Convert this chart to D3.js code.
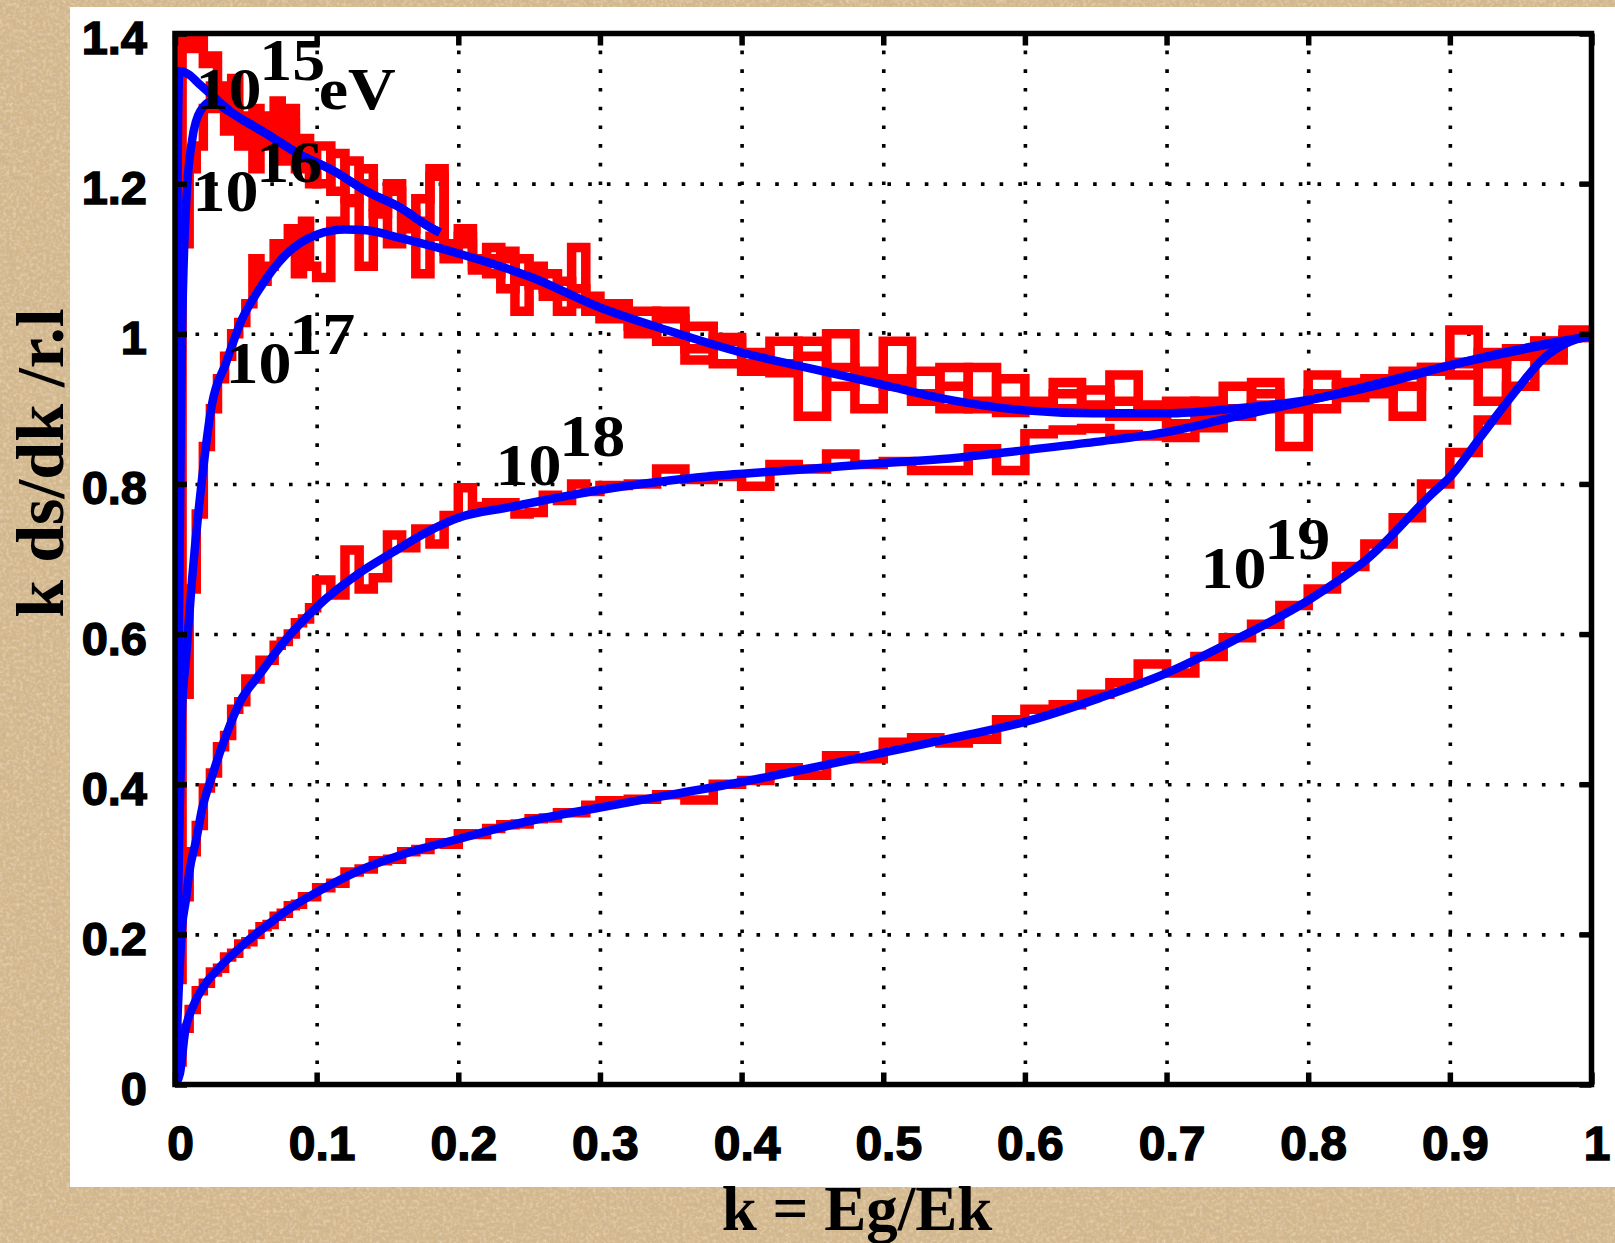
<!DOCTYPE html>
<html>
<head>
<meta charset="utf-8">
<script src="https://cdn.jsdelivr.net/npm/d3@7"></script>
<style>
  html, body { margin: 0; padding: 0; background: #d5b98f; overflow: hidden; }
  svg { display: block; }
</style>
</head>
<body>
<svg id="chart" width="1615" height="1243"></svg>
<script>
// ---- Histogram bin edges in k = Eg/Ek (fine bins at low k, coarse at high k) ----
const binEdges = [0,0.005,0.01,0.015,0.02,0.025,0.03,0.035,0.04,0.045,0.05,0.055,0.06,0.065,0.07,0.075,0.08,0.085,0.09,0.095,0.1,
  0.11,0.12,0.13,0.14,0.15,0.16,0.17,0.18,0.19,0.2,0.21,0.22,0.23,0.24,0.25,0.26,0.27,0.28,0.29,0.3,
  0.32,0.34,0.36,0.38,0.4,0.42,0.44,0.46,0.48,0.5,0.52,0.54,0.56,0.58,0.6,0.62,0.64,0.66,0.68,0.7,
  0.72,0.74,0.76,0.78,0.8,0.82,0.84,0.86,0.88,0.9,0.92,0.94,0.96,0.98,1.0];

// ---- Simulated spectra (histograms), one value per bin ----
const red15 = [1.05,1.4,1.38,1.42,1.36,1.37,1.33,1.3,1.34,1.29,1.27,1.3,1.25,1.26,1.31,1.23,1.28,1.24,1.26,1.21,
  1.2,1.24,1.18,1.22,1.17,1.2,1.16,1.15,1.21,1.12,1.14,1.1,1.08,1.11,1.07,1.08,1.06,1.05,1.06,1.03,
  1.03,1.01,1.02,0.98,0.99,0.95,0.96,0.97,0.93,0.94,0.93,0.92,0.955,0.91,0.895,0.9,0.92,0.905,0.91,0.89,
  0.9,0.91,0.895,0.92,0.905,0.92,0.93,0.925,0.95,0.95,0.96,0.975,0.975,0.99,0.995];
const red16 = [0.55,1.12,1.22,1.25,1.3,1.33,1.3,1.27,1.3,1.25,1.28,1.22,1.26,1.29,1.24,1.26,1.3,1.22,1.25,1.2,
  1.25,1.19,1.23,1.2,1.16,1.19,1.14,1.18,1.22,1.11,1.12,1.09,1.1,1.1,1.03,1.09,1.05,1.07,1.04,1.05,
  1.02,1.03,0.99,1.01,0.96,0.96,0.99,0.89,1.0,0.95,0.94,0.95,0.93,0.9,0.94,0.91,0.9,0.925,0.89,0.905,
  0.88,0.89,0.9,0.935,0.9,0.9,0.915,0.92,0.89,0.955,0.945,0.96,0.97,0.99,1.0];
const red17 = [0.26,0.52,0.66,0.76,0.85,0.9,0.94,0.97,1.0,1.015,1.04,1.1,1.07,1.09,1.12,1.11,1.14,1.08,1.15,1.09,
  1.075,1.15,1.175,1.09,1.16,1.12,1.15,1.08,1.13,1.1,1.13,1.085,1.115,1.06,1.1,1.065,1.08,1.03,1.115,1.04,
  1.04,1.0,1.03,0.965,0.995,0.975,0.948,0.99,0.955,0.9,0.99,0.91,0.9,0.955,0.91,0.905,0.935,0.9,0.945,0.9,
  0.91,0.905,0.93,0.9,0.85,0.945,0.935,0.94,0.93,0.95,1.005,0.91,0.97,0.975,1.005];
const red18 = [0.14,0.25,0.31,0.345,0.395,0.415,0.45,0.465,0.5,0.51,0.54,0.54,0.565,0.565,0.585,0.59,0.6,0.615,0.62,0.635,
  0.672,0.652,0.712,0.66,0.675,0.732,0.715,0.74,0.72,0.758,0.795,0.77,0.775,0.775,0.76,0.762,0.785,0.778,0.8,0.79,
  0.798,0.8,0.82,0.806,0.81,0.797,0.826,0.82,0.84,0.826,0.83,0.818,0.818,0.847,0.818,0.867,0.872,0.874,0.866,0.864,
  0.862,0.875,0.89,0.905,0.9,0.92,0.93,0.925,0.945,0.955,0.962,0.965,0.98,0.99,1.0];
const red19 = [0.03,0.075,0.1,0.125,0.135,0.15,0.155,0.17,0.175,0.187,0.19,0.2,0.21,0.213,0.224,0.228,0.238,0.24,0.25,0.25,
  0.262,0.268,0.283,0.287,0.298,0.3,0.31,0.313,0.322,0.32,0.334,0.333,0.341,0.346,0.347,0.354,0.355,0.362,0.362,0.372,
  0.378,0.38,0.386,0.379,0.4,0.405,0.422,0.412,0.438,0.434,0.456,0.462,0.455,0.46,0.486,0.5,0.506,0.52,0.535,0.56,
  0.548,0.57,0.595,0.613,0.638,0.66,0.69,0.72,0.755,0.8,0.842,0.885,0.93,0.965,0.995];

// ---- Calculated spectra (smooth curves), [k, k ds/dk] ----
const blue15 = [[0,0],[0.0008,0.7],[0.0018,1.2],[0.003,1.35],[0.01,1.345],[0.017,1.333],[0.026,1.318],[0.04,1.295],
  [0.065,1.266],[0.088,1.239],[0.112,1.217],[0.135,1.19],[0.159,1.168],[0.18,1.142],[0.187,1.135]];
const blue16 = [[0,0],[0.002,0.45],[0.004,0.85],[0.005,1.0],[0.008,1.178],[0.012,1.257],[0.018,1.297],[0.0268,1.31],
  [0.035,1.3],[0.065,1.266],[0.088,1.239],[0.112,1.217],[0.135,1.19],[0.159,1.168],[0.18,1.142],[0.187,1.135]];
const blue17 = [[0,0],[0.001,0.12],[0.003,0.33],[0.005,0.5],[0.0077,0.566],[0.012,0.672],[0.019,0.805],[0.026,0.905],
  [0.036,0.961],[0.047,1.018],[0.059,1.058],[0.078,1.105],[0.1,1.132],[0.12,1.139],[0.135,1.138],[0.158,1.128],
  [0.2,1.107],[0.252,1.075],[0.3,1.035],[0.347,1.005],[0.4,0.975],[0.446,0.955],[0.5,0.932],[0.547,0.912],
  [0.6,0.898],[0.648,0.894],[0.7,0.894],[0.747,0.9],[0.8,0.912],[0.85,0.932],[0.9,0.958],[0.95,0.98],[1,0.997]];
const blue18 = [[0,0],[0.002,0.1],[0.005,0.21],[0.0077,0.246],[0.01,0.282],[0.015,0.326],[0.019,0.366],[0.026,0.41],
  [0.036,0.465],[0.046,0.51],[0.06,0.547],[0.078,0.592],[0.1,0.636],[0.13,0.681],[0.153,0.708],[0.177,0.735],
  [0.2,0.755],[0.236,0.769],[0.3,0.792],[0.37,0.809],[0.44,0.819],[0.5,0.828],[0.547,0.834],[0.6,0.845],
  [0.65,0.856],[0.7,0.869],[0.747,0.889],[0.8,0.911],[0.841,0.93],[0.9,0.958],[0.959,0.982],[1,0.997]];
const blue19 = [[0,0],[0.0035,0.015],[0.007,0.069],[0.0127,0.104],[0.02,0.13],[0.032,0.157],[0.048,0.186],
  [0.067,0.215],[0.083,0.237],[0.1,0.256],[0.13,0.285],[0.165,0.309],[0.2,0.327],[0.243,0.348],[0.3,0.369],
  [0.35,0.386],[0.4,0.403],[0.45,0.422],[0.5,0.442],[0.55,0.462],[0.6,0.483],[0.653,0.515],[0.7,0.548],
  [0.747,0.591],[0.8,0.645],[0.841,0.699],[0.888,0.788],[0.9,0.809],[0.923,0.866],[0.947,0.925],
  [0.966,0.967],[0.982,0.987],[1,0.998]];

// ---- Axes ----
const xTicks = [0,0.1,0.2,0.3,0.4,0.5,0.6,0.7,0.8,0.9,1];
const xTickLabels = ["0","0.1","0.2","0.3","0.4","0.5","0.6","0.7","0.8","0.9","1"];
const yTicks = [0,0.2,0.4,0.6,0.8,1,1.2,1.4];
const yTickLabels = ["0","0.2","0.4","0.6","0.8","1","1.2","1.4"];
const xTitle = "k = Eg/Ek";
const yTitle = "k ds/dk /r.l";

// ---- Curve labels: electron energy exponent ----
const energyExponents = ["15","16","17","18","19"];
const energyUnit = "eV";

// ================= drawing =================
const W = 1615, H = 1243;
const plot = { left: 175, right: 1591.5, top: 33.5, bottom: 1084.5 };

const svg = d3.select("#chart");
const defs = svg.append("defs");

// soft mottled paper texture for the backdrop
const f = defs.append("filter").attr("id", "paper")
  .attr("x", 0).attr("y", 0).attr("width", "100%").attr("height", "100%");
f.append("feTurbulence").attr("type", "fractalNoise").attr("baseFrequency", 0.12)
  .attr("numOctaves", 4).attr("seed", 11).attr("result", "noise");
f.append("feColorMatrix").attr("in", "noise").attr("type", "matrix")
  .attr("values", "0 0 0 0 0.55  0 0 0 0 0.43  0 0 0 0 0.27  0.9 0 0 0 -0.38");
const f2 = defs.append("filter").attr("id", "paperLight")
  .attr("x", 0).attr("y", 0).attr("width", "100%").attr("height", "100%");
f2.append("feTurbulence").attr("type", "fractalNoise").attr("baseFrequency", 0.3)
  .attr("numOctaves", 3).attr("seed", 4).attr("result", "noise");
f2.append("feColorMatrix").attr("in", "noise").attr("type", "matrix")
  .attr("values", "0 0 0 0 0.93  0 0 0 0 0.86  0 0 0 0 0.74  0 0 1.0 0 -0.42");

defs.append("clipPath").attr("id", "plotClip").append("rect")
  .attr("x", plot.left).attr("y", plot.top)
  .attr("width", plot.right - plot.left).attr("height", plot.bottom - plot.top);

svg.append("rect").attr("width", W).attr("height", H).attr("fill", "#d4b88d");
svg.append("rect").attr("width", W).attr("height", H).attr("filter", "url(#paperLight)");
svg.append("rect").attr("width", W).attr("height", H).attr("filter", "url(#paper)");

// white sheet holding the plot
svg.append("rect").attr("x", 70).attr("y", 7).attr("width", W - 70).attr("height", 1180).attr("fill", "#ffffff");

const x = d3.scaleLinear().domain([0, 1]).range([plot.left, plot.right]);
const y = d3.scaleLinear().domain([0, 1.4]).range([plot.bottom, plot.top]);

// dotted grid
const gridX = svg.append("g").attr("transform", `translate(0,${plot.bottom})`)
  .call(d3.axisBottom(x).tickValues(xTicks.slice(1, -1)).tickSize(-(plot.bottom - plot.top)).tickFormat(""));
const gridY = svg.append("g").attr("transform", `translate(${plot.left},0)`)
  .call(d3.axisLeft(y).tickValues(yTicks.slice(1, -1)).tickSize(-(plot.right - plot.left)).tickFormat(""));
[gridX, gridY].forEach(g => {
  g.select(".domain").remove();
  g.selectAll(".tick line").attr("stroke", "#000").attr("stroke-width", 3.6)
    .attr("stroke-dasharray", "3.6 15.1").attr("stroke-dashoffset", 16.9);
});

// curves
const curves = svg.append("g").attr("clip-path", "url(#plotClip)");

function histPoints(vals) {
  const pts = [[binEdges[0], 0]];
  binEdges.forEach((e, i) => pts.push([e, vals[Math.min(i, vals.length - 1)]]));
  return pts;
}
const stepLine = d3.line().x(d => x(d[0])).y(d => y(d[1])).curve(d3.curveStepAfter);
const smoothLine = d3.line().x(d => x(d[0])).y(d => y(d[1])).curve(d3.curveMonotoneX);

[red19, red18, red17, red16, red15].forEach(vals => {
  curves.append("path").attr("d", stepLine(histPoints(vals)))
    .attr("fill", "none").attr("stroke", "#ff0000").attr("stroke-width", 9.5)
    .attr("stroke-linejoin", "miter");
});
[blue19, blue18, blue17, blue16, blue15].forEach(pts => {
  curves.append("path").attr("d", smoothLine(pts))
    .attr("fill", "none").attr("stroke", "#0000ff").attr("stroke-width", 8.5)
    .attr("stroke-linejoin", "round");
});

// frame and inward ticks on all four sides
const tickStyle = g => {
  g.select(".domain").remove();
  g.selectAll(".tick line").attr("stroke", "#000").attr("stroke-width", 5.5);
};
const axB = svg.append("g").attr("transform", `translate(0,${plot.bottom})`)
  .call(d3.axisBottom(x).tickValues(xTicks).tickSizeInner(-12).tickSizeOuter(0)
    .tickFormat((d, i) => xTickLabels[i]));
tickStyle(axB);
axB.selectAll(".tick text").attr("y", 1160 - plot.bottom).attr("dy", null).attr("dx", 5)
  .attr("font-family", "'Liberation Sans', Arial, sans-serif").attr("font-weight", "bold")
  .attr("font-size", 48).attr("fill", "#000").attr("stroke", "#000").attr("stroke-width", 1.4);

const axT = svg.append("g").attr("transform", `translate(0,${plot.top})`)
  .call(d3.axisTop(x).tickValues(xTicks).tickSizeInner(-12).tickSizeOuter(0).tickFormat(""));
tickStyle(axT);

const axL = svg.append("g").attr("transform", `translate(${plot.left},0)`)
  .call(d3.axisLeft(y).tickValues(yTicks).tickSizeInner(-12).tickSizeOuter(0)
    .tickFormat((d, i) => yTickLabels[i]));
tickStyle(axL);
axL.selectAll(".tick text").attr("x", 147 - plot.left).attr("dy", 20).attr("text-anchor", "end")
  .attr("font-family", "'Liberation Sans', Arial, sans-serif").attr("font-weight", "bold")
  .attr("font-size", 47).attr("fill", "#000").attr("stroke", "#000").attr("stroke-width", 1.4);

const axR = svg.append("g").attr("transform", `translate(${plot.right},0)`)
  .call(d3.axisRight(y).tickValues(yTicks).tickSizeInner(-12).tickSizeOuter(0).tickFormat(""));
tickStyle(axR);

svg.append("rect").attr("x", plot.left).attr("y", plot.top)
  .attr("width", plot.right - plot.left).attr("height", plot.bottom - plot.top)
  .attr("fill", "none").attr("stroke", "#000").attr("stroke-width", 5.5);

// axis titles
const serif = "'Liberation Serif', 'Times New Roman', serif";
svg.append("text").attr("x", 857).attr("y", 1230).attr("text-anchor", "middle")
  .attr("font-family", serif).attr("font-weight", "bold").attr("font-size", 63).text(xTitle);
svg.append("text").attr("transform", "translate(63,463) rotate(-90)").attr("text-anchor", "middle")
  .attr("font-family", serif).attr("font-weight", "bold").attr("font-size", 68).text(yTitle);

// energy labels placed in data coordinates next to their curves
const labelSpots = [[0.0145, 1.30], [0.0124, 1.164], [0.0357, 0.934], [0.2262, 0.798], [0.724, 0.662]];
energyExponents.forEach((ex, i) => {
  const [lk, lv] = labelSpots[i];
  const t = svg.append("g").attr("transform", `translate(${x(lk)},${y(lv)}) scale(1.1,1)`)
    .append("text")
    .attr("font-family", serif).attr("font-weight", "bold").attr("font-size", 60).attr("fill", "#000");
  t.append("tspan").text("10");
  t.append("tspan").attr("dx", -2).attr("dy", -29).text(ex);
  if (i === 0) t.append("tspan").attr("dx", -6).attr("dy", 29).text(energyUnit);
});
</script>
</body>
</html>
